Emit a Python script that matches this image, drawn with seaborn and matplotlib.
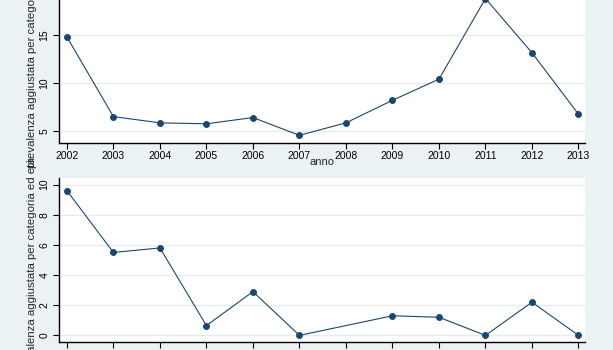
import numpy as np
import pandas as pd
import matplotlib
matplotlib.use("Agg")
import matplotlib.pyplot as plt
import seaborn as sns

# data
anni = [2002, 2003, 2004, 2005, 2006, 2007, 2008, 2009, 2010, 2011, 2012, 2013]
prev_sopra = [14.8, 6.5, 5.85, 5.75, 6.4, 4.55, 5.85, 8.2, 10.4, 18.8, 13.15, 6.75]
prev_sotto = [9.6, 5.5, 5.8, 0.65, 2.9, 0.0, np.nan, 1.3, 1.2, 0.0, 2.2, 0.0]
yticks_sopra = [5, 10, 15]
yticks_sotto = [0, 2, 4, 6, 8, 10]
ylabel = "prevalenza aggiustata per categoria ed età"
xlabel = "anno"

bg = "#eaf2f3"
navy = "#1a476f"
grid_col = "#e4ecee"

sns.set_theme(style="white")
plt.rcParams["font.family"] = ["Liberation Sans", "DejaVu Sans"]

W, H = 613, 350
fig = plt.figure(figsize=(W / 100, H / 100), dpi=100)
fig.patch.set_facecolor(bg)


def px(l, t, r, b):
    return [l / W, 1 - b / H, (r - l) / W, (b - t) / H]


def style_axis(ax, yticks, ylim, show_xlabels=True):
    ax.set_facecolor("white")
    ax.set_xlim(2001.83, 2013.14)
    ax.set_ylim(*ylim)
    ax.set_xticks(anni)
    ax.set_yticks(yticks)
    for y in yticks:
        ax.axhline(y, color=grid_col, lw=0.9, zorder=0)
    for s in ["top", "right"]:
        ax.spines[s].set_visible(False)
    for s in ["left", "bottom"]:
        ax.spines[s].set_color("black")
        ax.spines[s].set_linewidth(1.0)
    ax.tick_params(axis="both", which="major", direction="out", length=4,
                   width=0.8, color="black", labelsize=7.5, labelcolor="black",
                   bottom=True, left=True)
    ax.tick_params(axis="x", pad=2, labelbottom=show_xlabels)
    ax.tick_params(axis="y", pad=3)
    for lab in ax.get_yticklabels():
        lab.set_rotation(90)
        lab.set_va("center")
    ax.set_xlabel("")
    ax.set_ylabel("")


df_sopra = pd.DataFrame({"anno": anni, "prev": prev_sopra})
df_sotto = pd.DataFrame({"anno": anni, "prev": prev_sotto})

ax1 = fig.add_axes(px(59, -8, 585, 143))
sns.lineplot(data=df_sopra, x="anno", y="prev", ax=ax1, color=navy,
             marker="o", markersize=4.2, markeredgecolor=navy, lw=0.8,
             clip_on=False)
style_axis(ax1, yticks_sopra, (3.75, 19.48))

# lower panel: its year labels fall below the cropped edge in the original
ax2 = fig.add_axes(px(59, 178, 585, 341.7))
sns.lineplot(data=df_sotto, x="anno", y="prev", ax=ax2, color=navy,
             marker="o", markersize=4.2, markeredgecolor=navy, lw=0.8,
             clip_on=False)
style_axis(ax2, yticks_sotto, (-0.42, 10.44), show_xlabels=False)

# axis titles (cropped like the original)
fig.text(322 / W, 1 - 162 / H, xlabel, ha="center", va="center", fontsize=8)
fig.text(32 / W, 1 - 168 / H, ylabel, rotation=90, ha="center", va="bottom",
         fontsize=8.2)
fig.text(32 / W, 1 - 157 / H, ylabel, rotation=90, ha="center", va="top",
         fontsize=8.2)

fig.savefig("out.png", dpi=100, facecolor=bg)
